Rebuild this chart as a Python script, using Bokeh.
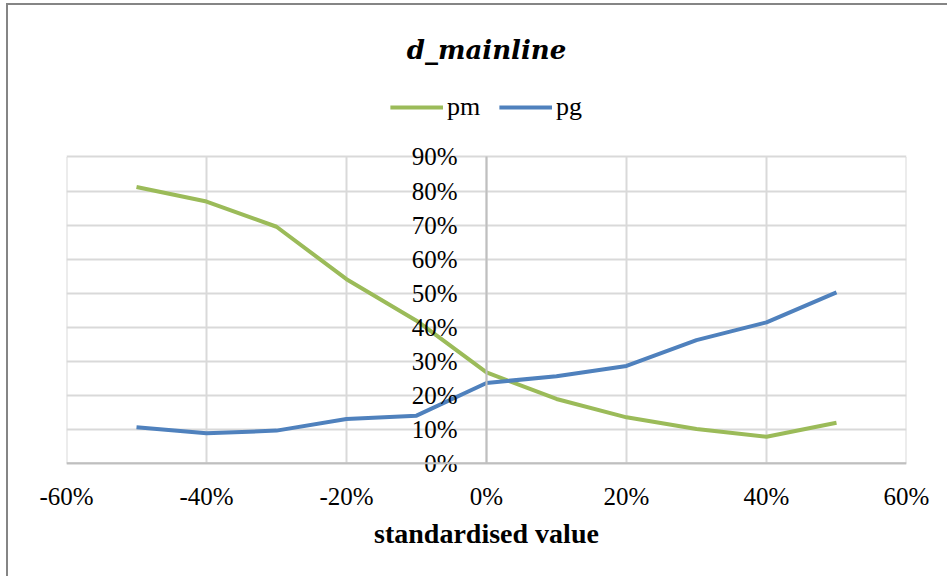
from bokeh.plotting import figure
from bokeh.models import (LinearAxis, Legend, LegendItem, FixedTicker,
                          NumeralTickFormatter, Range1d, Span)
from bokeh.embed import file_html
from bokeh.resources import INLINE

# data
x_values = [-0.5, -0.4, -0.3, -0.2, -0.1, 0.0, 0.1, 0.2, 0.3, 0.4, 0.5]
pm = [0.812, 0.769, 0.695, 0.541, 0.419, 0.267, 0.189, 0.135, 0.101, 0.078, 0.119]
pg = [0.106, 0.088, 0.096, 0.130, 0.140, 0.236, 0.256, 0.286, 0.362, 0.414, 0.502]
x_ticks = [-0.6, -0.4, -0.2, 0.0, 0.2, 0.4, 0.6]
y_ticks = [0.0, 0.1, 0.2, 0.3, 0.4, 0.5, 0.6, 0.7, 0.8, 0.9]
y_min, y_max = 0.0, 0.9

GREEN = "#9BBB59"
BLUE = "#4F81BD"
GRID = "#D9D9D9"
AXIS = "#BFBFBF"
SERIF = "Liberation Serif"

# the frame reaches past 0 % and 90 % so that the centred y axis labels and
# the legend above the grid are not cut; grid lines are kept to 0..90 %
p = figure(width=941, height=573, output_backend="svg", toolbar_location=None,
           x_range=Range1d(-0.6, 0.6), y_range=Range1d(-0.03, 1.11),
           y_axis_location=None,
           min_border_left=58, min_border_right=43, min_border_top=80,
           min_border_bottom=105)
p.margin = (3, 0, 0, 6)
p.styles = {"border-left": "2px solid #858585", "border-top": "2px solid #858585"}
p.background_fill_color = "white"
p.border_fill_color = "white"
p.outline_line_color = None

p.title.text = "d_mainline"
p.title.align = "center"
p.title.text_font = "DejaVu Serif"
p.title.text_font_style = "bold italic"
p.title.text_font_size = "26px"
p.title.text_color = "black"
p.title.standoff = 42

xa = p.xaxis[0]
xa.ticker = FixedTicker(ticks=x_ticks)
xa.formatter = NumeralTickFormatter(format="0%")
xa.major_tick_line_color = None
xa.minor_tick_line_color = None
xa.axis_line_color = None
xa.major_label_standoff = 3
xa.major_label_text_font = SERIF
xa.major_label_text_font_size = "25px"
xa.major_label_text_color = "black"
xa.axis_label = "standardised value"
xa.axis_label_text_font = SERIF
xa.axis_label_text_font_style = "bold"
xa.axis_label_text_font_size = "28px"
xa.axis_label_text_color = "black"
xa.axis_label_standoff = 5

ya = LinearAxis(fixed_location=0, ticker=FixedTicker(ticks=y_ticks),
                formatter=NumeralTickFormatter(format="0%"), bounds=(y_min, y_max))
ya.major_tick_line_color = None
ya.minor_tick_line_color = None
ya.axis_line_color = AXIS
ya.axis_line_width = 2
ya.major_label_standoff = 23
ya.major_label_text_font = SERIF
ya.major_label_text_font_size = "25px"
ya.major_label_text_color = "black"
p.add_layout(ya, "left")

# vertical grid lines, limited to the 0..90 % band
p.xgrid.visible = False
p.segment(x0=x_ticks, y0=[y_min] * len(x_ticks), x1=x_ticks,
          y1=[y_max] * len(x_ticks), line_color=GRID, line_width=2)
p.ygrid.ticker = FixedTicker(ticks=y_ticks)
p.ygrid.grid_line_color = GRID
p.ygrid.grid_line_width = 2

p.add_layout(Span(location=0, dimension="width", line_color=AXIS, line_width=2))

r_pm = p.line(x_values, pm, line_color=GREEN, line_width=4)
r_pg = p.line(x_values, pg, line_color=BLUE, line_width=4)

legend = Legend(items=[LegendItem(label="pm", renderers=[r_pm]),
                       LegendItem(label="pg", renderers=[r_pg])],
                orientation="horizontal", location="top_center")
legend.border_line_color = None
legend.background_fill_alpha = 0
legend.glyph_width = 53
legend.label_standoff = 4
legend.spacing = 19
legend.padding = 0
legend.margin = 7
legend.label_text_font = SERIF
legend.label_text_font_size = "26px"
legend.label_text_color = "black"
p.add_layout(legend, "center")

open("out.html", "w").write(file_html(p, INLINE))
